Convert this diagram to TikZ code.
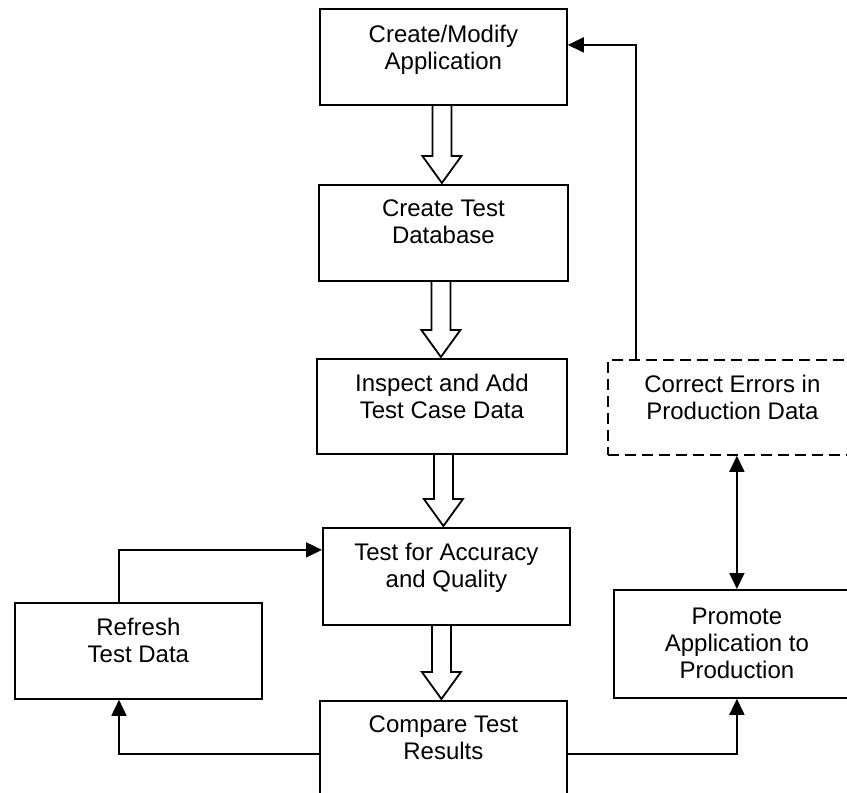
\documentclass[tikz,border=0pt]{standalone}
\usepackage{fontspec}
\setmainfont{Liberation Sans}
\usetikzlibrary{arrows.meta,calc}
\tikzset{
  box/.style={draw, line width=1.8pt, minimum width=247pt, minimum height=96pt, inner sep=0pt, anchor=north west},
  dbox/.style={box, dash pattern=on 11pt off 6pt},
  txt/.style={anchor=north, inner sep=0pt, align=center, font=\fontsize{24pt}{26.8pt}\selectfont},
  conn/.style={line width=1.7pt, -{Triangle[length=16pt,width=15pt]}},
  dblconn/.style={line width=1.7pt, {Triangle[length=16pt,width=15pt]}-{Triangle[length=16pt,width=15pt]}},
  hollow/.style={draw, line width=1.8pt, line join=miter},
}
\newcommand\hollowarrow[3]{%
  \path[hollow] let \p1=($(#1.south)+(#3,0)$), \p2=(#2.north) in
    (\x1-9.5pt,\y1) -- (\x1-9.5pt,\y2+28pt) -- (\x1-19.5pt,\y2+28pt) -- (\x1,\y2+1pt)
    -- (\x1+19.5pt,\y2+28pt) -- (\x1+9.5pt,\y2+28pt) -- (\x1+9.5pt,\y1);}
\begin{document}
\begin{tikzpicture}[x=1pt,y=-1pt]
\useasboundingbox (0,0) rectangle (847,793);
\clip (0,0) rectangle (847,793);
% boxes
\node[box] (b1) at (319,8) {};
\node[box, minimum width=249pt] (b2) at (318,184) {};
\node[box, minimum width=250pt, minimum height=95pt] (b3) at (316,358) {};
\node[box, minimum height=97pt] (b4) at (322,527) {};
\node[box, minimum height=106pt] (b5) at (319,700) {};
\node[box] (rf) at (14,602) {};
\node[dbox, minimum width=249pt, minimum height=95pt] (cb) at (607,359) {};
\node[box, minimum width=246pt, minimum height=108pt] (pr) at (613,589) {};
% texts
\node[txt] (t1) at ($(b1.north)+(0,17)$) {Create/Modify\\Application};
\node[txt] (t2) at ($(b2.north)+(0,16)$) {Create Test\\Database};
\node[txt] (t3) at ($(b3.north)+(0,16)$) {Inspect and Add\\Test Case Data};
\node[txt] (t4) at ($(b4.north)+(0,16)$) {Test for Accuracy\\and Quality};
\node[txt] (t5) at ($(b5.north)+(0,16)$) {Compare Test\\Results};
\node[txt] (t6) at ($(rf.north)+(0,16)$) {Refresh\\Test Data};
\node[txt] (t7) at ($(cb.north)+(0,16)$) {Correct Errors in\\Production Data};
\node[txt] (t8) at ($(pr.north)+(0,19)$) {Promote\\Application to\\Production};
% hollow block arrows
\hollowarrow{b1}{b2}{-1.5}
\hollowarrow{b2}{b3}{-2.5}
\hollowarrow{b3}{b4}{1.5}
\hollowarrow{b4}{b5}{-5}
% connectors
\draw[conn] ($(cb.north west)+(29,0)$) |- ($(b1.east)+(0,-12)$);
\draw[conn] ($(rf.north west)+(105,0)$) |- ($(b4.west)+(0,-26.5)$);
\draw[conn] (b5.west) -| ($(rf.south west)+(105,0)$);
\draw[conn] (b5.east) -| (pr.south);
\draw[dblconn] (cb.south -| pr.north) -- (pr.north);
\end{tikzpicture}
\end{document}
